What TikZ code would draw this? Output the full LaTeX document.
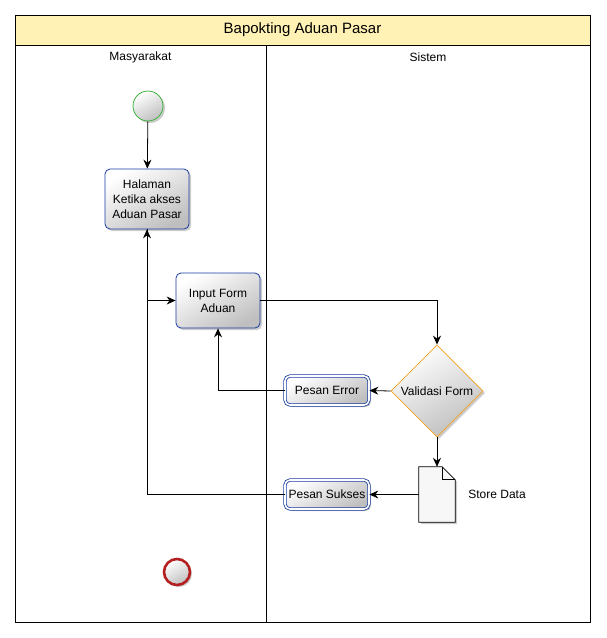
\documentclass[tikz,border=0pt]{standalone}
\usepackage{fontspec}
\setmainfont{Liberation Sans}
\usetikzlibrary{arrows.meta,calc,positioning,shapes.geometric,shadows}
\definecolor{poolyellow}{RGB}{255,242,180}
\definecolor{taskblue}{RGB}{25,60,160}
\definecolor{startgreen}{RGB}{60,180,60}
\definecolor{endred}{RGB}{180,30,30}
\definecolor{gateorange}{RGB}{245,160,30}

\begin{document}
\begin{tikzpicture}[
  x=1pt, y=-1pt,
  font=\fontsize{12}{15}\selectfont,
  >={Stealth[length=9pt, width=8pt, inset=3pt]},
  flow/.style={->, draw=black, line width=0.8pt},
  shade/.style={top color=white, bottom color=black!25, shading angle=30},
  shadowed/.style={drop shadow={shadow xshift=2pt, shadow yshift=-2pt, opacity=0.2, fill=black}},
  task/.style={rectangle, rounded corners=5pt, draw=taskblue, line width=0.8pt,
    shade, shadowed, align=center, minimum width=84pt, inner sep=2pt},
  msgbox/.style={task, double=white, double distance=1.6pt, minimum height=29pt},
  gate/.style={diamond, draw=gateorange, line width=0.8pt, shade, shadowed,
    minimum width=92pt, minimum height=92pt, inner sep=1pt},
  startev/.style={circle, draw=startgreen, line width=0.8pt, shade, shadowed, minimum size=30pt},
  endev/.style={circle, draw=endred, line width=2.6pt, shade, shadowed, minimum size=26pt},
  lane/.style={draw=black, line width=0.8pt}
]
\path[use as bounding box] (0,0) rectangle (606,638);

% pool and lanes
\draw[lane, fill=poolyellow] (15,15) rectangle (590,45);
\draw[lane] (15,45) rectangle (590,622);
\draw[lane] (266,45) -- (266,622);
\node[font=\fontsize{15}{18}\selectfont] (pooltitle) at (302.5,30) {Bapokting Aduan Pasar};
\node (lanemas) at (140.5,57) {Masyarakat};
\node (lanesis) at (428,57) {Sistem};

% Masyarakat
\node[startev] (start) at (148,106) {};
\node[task, minimum height=60pt] (halaman) at (147,199) {Halaman\\Ketika akses\\Aduan Pasar};
\node[task, minimum height=55pt] (input) at (218,300.5) {Input Form\\Aduan};
\node[endev] (end) at (177,572) {};

% Sistem
\node[gate] (validasi) at (437,391) {Validasi Form};
\node[msgbox] (perror) at (327,390.5) {Pesan Error};
\node[minimum width=36pt, minimum height=55pt, inner sep=0pt] (store) at (437,494.5) {};
\draw[fill=black!3, line width=0.8pt, shadowed] (store.south west) -- (store.north west)
  -- ($(store.north east)+(-13,0)$) -- ($(store.north east)+(0,13)$)
  -- (store.south east) -- cycle;
\draw[line width=0.8pt] ($(store.north east)+(-13,0)$) -- ($(store.north east)+(-13,13)$)
  -- ($(store.north east)+(0,13)$);
\node[right=13pt of store, inner sep=0pt] (storelbl) {Store Data};
\node[msgbox] (psukses) at (327,494.5) {Pesan Sukses};

% connectors
\draw[flow] (start) -- (halaman);
\draw[flow] (halaman.south) |- (input.west);
\draw[flow] (psukses.west) -| (halaman.south);
\draw[flow] (input.east) -| (validasi.north);
\draw[flow] (validasi.west) -- (perror.east);
\draw[flow] (perror.west) -| (input.south);
\draw[flow] (validasi.south) -- (store.north);
\draw[flow] (store.west) -- (psukses.east);
\end{tikzpicture}
\end{document}
